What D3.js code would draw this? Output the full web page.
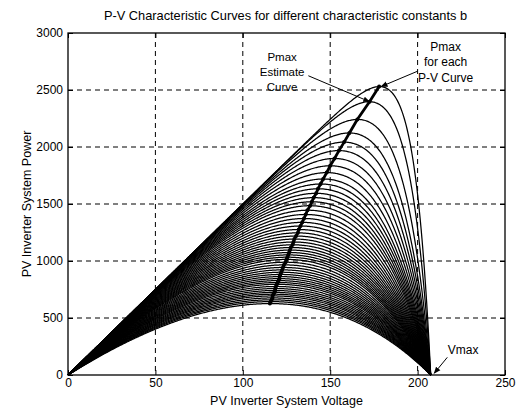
<!DOCTYPE html>
<html>
<head>
<meta charset="utf-8">
<script src="https://cdn.jsdelivr.net/npm/d3@7"></script>
<style>
  html, body { margin: 0; padding: 0; background: #fff; }
  svg { display: block; font-family: "Liberation Sans", Arial, Helvetica, sans-serif; }
</style>
</head>
<body>
<svg id="chart" width="521" height="411"></svg>
<script>
// ---------------- data ----------------
const titleText = "P-V Characteristic Curves for different characteristic constants b";
const xLabelText = "PV Inverter System Voltage";
const yLabelText = "PV Inverter System Power";
const xTicks = [0, 50, 100, 150, 200, 250];
const yTicks = [0, 500, 1000, 1500, 2000, 2500, 3000];
const xGrid = [50, 100, 150, 200];
const yGrid = [500, 1000, 1500, 2000, 2500];
// PV model parameters (short-circuit current, open-circuit voltage)
const shortCircuitCurrent = 15;
const openCircuitVoltage = 207.5;
// characteristic constants b, one per P-V curve (estimated from the peaks in the picture)
const bConstants = [10, 13.4, 18, 22, 25, 28, 31, 34, 37, 40, 42.5, 45, 47.5, 50, 52.5, 55,
  58, 61, 64, 67, 70, 73, 76, 79, 82, 85, 88, 91, 94, 97, 100, 103, 106, 110, 114, 118, 122,
  126, 130, 134, 138, 142, 146, 150, 155, 160, 165, 170, 175, 180, 186, 192, 198, 205];
// annotations
const leftNoteLines = ["Pmax", "Estimate", "Curve"];
const rightNoteLines = ["Pmax", "for each", "P-V Curve"];
const vmaxNote = "Vmax";

// ---------------- layout ----------------
const svg = d3.select("#chart");
const M = { left: 68, right: 505, top: 33, bottom: 375 };
const x = d3.scaleLinear().domain([0, 250]).range([M.left, M.right]);
const y = d3.scaleLinear().domain([0, 3000]).range([M.bottom, M.top]);

// arrow marker
svg.append("defs").append("marker")
  .attr("id", "arrow").attr("viewBox", "0 0 10 10").attr("refX", 9).attr("refY", 5)
  .attr("markerWidth", 7).attr("markerHeight", 7).attr("orient", "auto-start-reverse")
  .attr("markerUnits", "userSpaceOnUse")
  .append("path").attr("d", "M0,1 L10,5 L0,9 Z").attr("fill", "#000");

// grid
const grid = svg.append("g").attr("stroke", "#000").attr("stroke-width", 1)
  .attr("stroke-dasharray", "5,4").attr("fill", "none");
grid.selectAll("line.v").data(xGrid).join("line").attr("class", "v")
  .attr("x1", d => x(d)).attr("x2", d => x(d)).attr("y1", y(3000)).attr("y2", y(0));
grid.selectAll("line.h").data(yGrid).join("line").attr("class", "h")
  .attr("x1", x(0)).attr("x2", x(250)).attr("y1", d => y(d)).attr("y2", d => y(d));

// curves
const volts = d3.range(0, openCircuitVoltage, 0.5).concat([openCircuitVoltage]);
function power(v, b) {
  return shortCircuitCurrent * v * (1 - Math.exp((v - openCircuitVoltage) / b));
}
const curves = bConstants.map(b => volts.map(v => [v, Math.max(0, power(v, b))]));
const peaks = curves.map(c => c.reduce((a, p) => (p[1] > a[1] ? p : a), [0, 0]));

const line = d3.line().x(d => x(d[0])).y(d => y(d[1]));
svg.append("g").selectAll("path").data(curves).join("path")
  .attr("d", line).attr("fill", "none").attr("stroke", "#000").attr("stroke-width", 1.25);

// Pmax line through peaks
svg.append("path").datum(peaks).attr("d", line).attr("fill", "none")
  .attr("stroke", "#000").attr("stroke-width", 2.8);
svg.append("g").selectAll("circle").data(peaks).join("circle")
  .attr("cx", d => x(d[0])).attr("cy", d => y(d[1])).attr("r", 2).attr("fill", "#000");

// axes (inward ticks on all sides)
function styleAxis(g) {
  g.select(".domain").remove();
  g.selectAll(".tick line").attr("stroke", "#000");
  g.selectAll("text").attr("fill", "#000").attr("font-size", 12)
    .attr("font-family", "'Liberation Sans', Arial, sans-serif");
}
svg.append("g").attr("transform", `translate(0,${M.bottom})`)
  .call(d3.axisBottom(x).tickValues(xTicks).tickSize(-5).tickPadding(3).tickFormat(d3.format("d")))
  .call(styleAxis);
svg.append("g").attr("transform", `translate(0,${M.top})`)
  .call(d3.axisTop(x).tickValues(xTicks).tickSize(-5).tickFormat(""))
  .call(styleAxis);
svg.append("g").attr("transform", `translate(${M.left},0)`)
  .call(d3.axisLeft(y).tickValues(yTicks).tickSize(-5).tickPadding(5).tickFormat(d3.format("d")))
  .call(styleAxis);
svg.append("g").attr("transform", `translate(${M.right},0)`)
  .call(d3.axisRight(y).tickValues(yTicks).tickSize(-5).tickFormat(""))
  .call(styleAxis);

// frame
svg.append("rect").attr("x", M.left).attr("y", M.top)
  .attr("width", M.right - M.left).attr("height", M.bottom - M.top)
  .attr("fill", "none").attr("stroke", "#000").attr("stroke-width", 1.3);

// title and labels
svg.append("text").attr("x", (M.left + M.right) / 2 - 1).attr("y", 20)
  .attr("text-anchor", "middle").attr("font-size", 12.8).text(titleText);
svg.append("text").attr("x", (M.left + M.right) / 2).attr("y", 405)
  .attr("text-anchor", "middle").attr("font-size", 12.5).text(xLabelText);
svg.append("text").attr("transform", `translate(31,${(M.top + M.bottom) / 2}) rotate(-90)`)
  .attr("text-anchor", "middle").attr("font-size", 12.5).text(yLabelText);

// annotations
const notes = svg.append("g").attr("font-size", 11.5).attr("text-anchor", "middle");
notes.selectAll("text.l").data(leftNoteLines).join("text").attr("class", "l")
  .attr("x", x(122.5)).attr("y", (d, i) => y(2755) + i * 15).text(d => d);
notes.selectAll("text.r").data(rightNoteLines).join("text").attr("class", "r")
  .attr("x", x(216)).attr("y", (d, i) => y(2845) + i * 15.5).attr("font-size", 12).text(d => d);
notes.append("text").attr("x", x(226)).attr("y", y(185)).attr("font-size", 12).text(vmaxNote);

const arrows = svg.append("g").attr("stroke", "#000").attr("stroke-width", 1);
arrows.append("line")
  .attr("x1", x(137.5)).attr("y1", y(2625)).attr("x2", x(peaks[1][0])).attr("y2", y(peaks[1][1]))
  .attr("marker-end", "url(#arrow)");
arrows.append("line")
  .attr("x1", x(200)).attr("y1", y(2665)).attr("x2", x(peaks[0][0]) + 2).attr("y2", y(peaks[0][1]))
  .attr("marker-end", "url(#arrow)");
arrows.append("line")
  .attr("x1", x(217)).attr("y1", y(155)).attr("x2", x(209.5)).attr("y2", y(15))
  .attr("marker-end", "url(#arrow)");
</script>
</body>
</html>
